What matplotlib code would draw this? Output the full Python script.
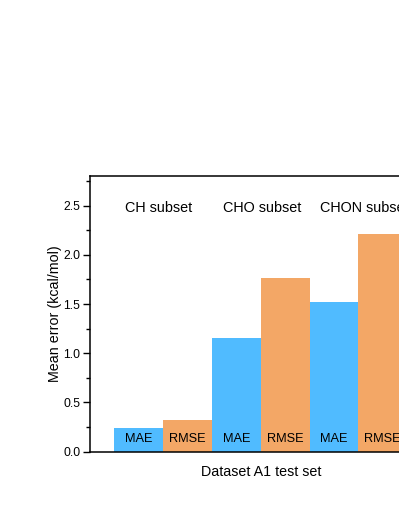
import matplotlib
matplotlib.use("Agg")
import matplotlib.pyplot as plt
from matplotlib.ticker import MultipleLocator

subsets = ["CH subset", "CHO subset", "CHON subset"]
metrics = ["MAE", "RMSE"]
mae_values = [0.24, 1.15, 1.52]
rmse_values = [0.32, 1.76, 2.21]
yticks = [0.0, 0.5, 1.0, 1.5, 2.0, 2.5]
ylabel = "Mean error (kcal/mol)"
xlabel = "Dataset A1 test set"

blue = "#50BBFF"
orange = "#F3A766"

plt.rcParams['font.family'] = ['Liberation Sans', 'DejaVu Sans']

fig = plt.figure(figsize=(3.99, 5.16), dpi=100)
ax = fig.add_axes([0.2256, 0.1246, 0.856, 0.5343])

for i, (m, r) in enumerate(zip(mae_values, rmse_values)):
    xm = 2 * i + 1
    xr = 2 * i + 2
    ax.bar(xm, m, width=1.0, color=blue, edgecolor='none')
    ax.bar(xr, r, width=1.0, color=orange, edgecolor='none')
    ax.text(xm, 0.13, metrics[0], ha='center', va='center', fontsize=9.2)
    ax.text(xr, 0.125, metrics[1], ha='center', va='center', fontsize=9.2)
    ax.text(2 * i + 0.72, 2.48, subsets[i], ha='left', va='center', fontsize=10.4)

ax.set_xlim(0, 7)
ax.set_ylim(0, 2.8)
ax.set_xticks([])
ax.set_yticks(yticks)
ax.set_yticklabels([f"{v:.1f}" for v in yticks])
ax.yaxis.set_minor_locator(MultipleLocator(0.25))
ax.tick_params(axis='y', which='major', direction='out', length=5, width=1, labelsize=8.8, pad=2)
ax.tick_params(axis='y', which='minor', direction='out', length=3, width=1)
for s in ax.spines.values():
    s.set_linewidth(1.1)
ax.set_ylabel(ylabel, fontsize=10.3, labelpad=0.5)
ax.set_xlabel(xlabel, fontsize=10.3, labelpad=9.5)

fig.savefig("out.png", dpi=100)
